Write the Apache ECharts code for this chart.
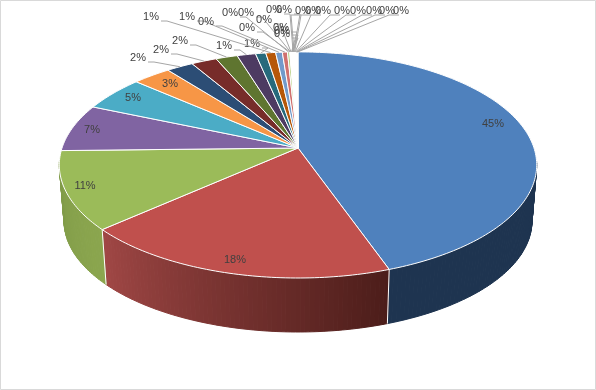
<!DOCTYPE html>
<html>
<head>
<meta charset="utf-8">
<style>
  html, body { margin: 0; padding: 0; background: #fff; }
  #chart { width: 596px; height: 390px; }
</style>
<script src="https://cdn.jsdelivr.net/npm/echarts@6/dist/echarts.min.js"></script>
</head>
<body>
<div id="chart"></div>
<script>
// width of each slice, clockwise from 12 o'clock, read off the drawn angles
// (the 3D view skews the front a little, so red draws wider than its printed 18%)
var sliceValues = [44.6, 18.8, 11.2, 6.8, 5, 3, 2.1, 2, 1.7, 1.45, 0.8, 0.77, 0.52, 0.4, 0.18,
  0.04, 0.04, 0.04, 0.04, 0.04, 0.04, 0.04, 0.04, 0.04, 0.04, 0.04, 0.04, 0.04, 0.04, 0.04, 0.04];
var sliceLabels = ['45%', '18%', '11%', '7%', '5%', '3%', '2%', '2%', '2%', '1%', '1%', '1%', '1%',
  '0%', '0%', '0%', '0%', '0%', '0%', '0%', '0%', '0%', '0%', '0%', '0%', '0%', '0%', '0%', '0%', '0%', '0%'];
var sliceColors = ['#4f81bd', '#c0504d', '#9bbb59', '#8064a2', '#4bacc6', '#f79646', '#2c4d75', '#772c2a',
  '#5f7530', '#4d3b62', '#276a7c', '#b65708', '#729aca', '#d0716e', '#b8d083',
  '#fff', '#fff', '#fff', '#fff', '#fff', '#fff', '#fff', '#fff', '#fff', '#fff', '#fff', '#fff', '#fff', '#fff', '#fff', '#fff'];
// side wall shading along the arc, clockwise; only the front slices show a wall
var wallColors = {
  0: ['#1e3450', '#1e3450'],
  1: ['#4c1d1a', '#a04745'],
  2: ['#8ba64e', '#7f9a48']
};
// where each label sits in the picture (Excel placed them by hand, no rule to derive it)
var labelSpots = [[493, 123], [235, 259], [85, 185], [92, 129], [133, 97], [170, 83],
  [138, 57], [161, 49], [180, 40], [224, 45], [252, 43], [151, 16], [187, 16],
  [206, 21], [230, 12], [247, 27], [246, 12], [264, 19], [281, 27], [282, 30], [282, 33], [274, 9], [284, 9],
  [303, 10], [313, 10], [323, 10], [342, 10], [358, 10], [374, 10], [387, 10], [401, 10]];
var insideLabels = 6;

// perspective disc: apex of the slices sits above the centre of the ellipse
var apexX = 298, apexY = 148;
var radX = 236, radY = 110.5, tilt = 0.15;
var wallShrink = 0.98, wallDrop = 56.6;

var total = sliceValues.reduce(function (a, b) { return a + b; }, 0);
var starts = [];
sliceValues.reduce(function (sum, v, i) { starts[i] = sum / total; return sum + v; }, 0);

function rim(frac) {
    var t = frac * Math.PI * 2;
    var u = Math.sin(t), v = Math.cos(t), d = 1 + tilt * v;
    return [apexX + radX * u / d, apexY - radY * v / d];
}
function lower(p) {
    return [apexX + (p[0] - apexX) * wallShrink, apexY + (p[1] - apexY) * wallShrink + wallDrop];
}
function arc(i) {
    var a = starts[i], b = a + sliceValues[i] / total;
    var n = Math.max(2, Math.ceil((b - a) * 360)), pts = [];
    for (var j = 0; j <= n; j++) pts.push(rim(a + (b - a) * j / n));
    return pts;
}

function renderWall(params) {
    var i = params.dataIndex, shade = wallColors[i];
    if (!shade) return null;
    var top = arc(i), children = [];
    // one quad per degree, so the silhouette follows the tangent between both rims
    for (var j = 0; j < top.length - 1; j++) {
        // back part sits under the disc, its stroke would only peek out at the rim
        if (top[j][1] < apexY + 14 && top[j + 1][1] < apexY + 14) continue;
        var c = echarts.color.lerp(j / (top.length - 2), shade);
        children.push({
            type: 'polygon',
            shape: { points: [top[j], top[j + 1], lower(top[j + 1]), lower(top[j])] },
            style: { fill: c, stroke: c, lineWidth: 1 }
        });
    }
    if (i > 0) {
        children.push({
            type: 'line',
            z2: 5,
            shape: { x1: top[0][0], y1: top[0][1], x2: lower(top[0])[0], y2: lower(top[0])[1] },
            style: { stroke: '#fff', lineWidth: 1 }
        });
    }
    return { type: 'group', children: children };
}
function renderTop(params) {
    var i = params.dataIndex;
    return {
        type: 'polygon',
        shape: { points: [[apexX, apexY]].concat(arc(i)) },
        style: { fill: sliceColors[i], stroke: '#fff', lineWidth: 1 }
    };
}
function renderLabel(params) {
    var i = params.dataIndex, spot = labelSpots[i];
    var text = {
        type: 'text',
        style: {
            x: spot[0], y: spot[1] + 1, text: sliceLabels[i],
            align: 'center', verticalAlign: 'middle',
            font: '11px "Liberation Sans"', fill: '#404040'
        }
    };
    if (i < insideLabels) return text;
    var end = rim(starts[i] + sliceValues[i] / total / 2);
    var left = spot[0] < apexX;
    var y = spot[1] + 5;
    var x0 = left ? spot[0] + 10 : spot[0] - 2;
    var x1 = left ? spot[0] + 16 : spot[0] - 12;
    return {
        type: 'group',
        children: [{
            type: 'polyline',
            shape: { points: [[x0, y], [x1, y], end] },
            style: { stroke: '#a6a6a6', lineWidth: 1, fill: null }
        }, text]
    };
}

var chart = echarts.init(document.getElementById('chart'));
chart.setOption({
    animation: false,
    backgroundColor: '#fff',
    graphic: [{
        type: 'rect', silent: true,
        shape: { x: 0.5, y: 0.5, width: 595, height: 389 },
        style: { fill: null, stroke: '#d9d9d9', lineWidth: 1 }
    }],
    series: [
        { type: 'custom', coordinateSystem: 'none', data: sliceValues, renderItem: renderWall, z: 1, silent: true },
        { type: 'custom', coordinateSystem: 'none', data: sliceValues, renderItem: renderTop, z: 2, silent: true },
        { type: 'custom', coordinateSystem: 'none', data: sliceValues, renderItem: renderLabel, z: 3, silent: true }
    ]
});
</script>
</body>
</html>
